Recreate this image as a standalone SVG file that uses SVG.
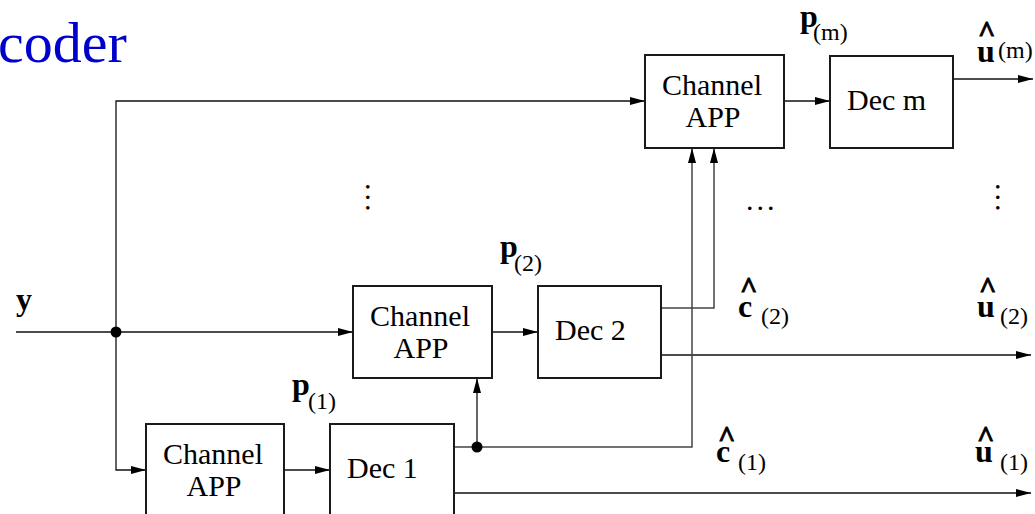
<svg xmlns="http://www.w3.org/2000/svg" width="1035" height="514" viewBox="0 0 1035 514">
<style>
  .box { fill: #ffffff; stroke: #1a1a1a; stroke-width: 2; }
  .lbl { font-family: "Liberation Serif", "Times New Roman", serif; font-size: 30px; fill: #000; }
  .bold { font-family: "Liberation Serif", "Times New Roman", serif; font-weight: bold; font-size: 32px; fill: #000; }
  .sub { font-family: "Liberation Serif", "Times New Roman", serif; font-weight: normal; font-size: 24px; fill: #000; stroke: none; }
  .hat { font-family: "Liberation Serif", "Times New Roman", serif; font-weight: bold; font-size: 30px; fill: #000; stroke: #000; stroke-width: 0.9; }
  .wire { fill: none; stroke: #111; stroke-width: 1.3; }
  .wire2 { fill: none; stroke: #444; stroke-width: 1.5; }
  .dots { font-family: "Liberation Serif", "Times New Roman", serif; font-size: 30px; letter-spacing: 3px; fill: #000; }
</style>
<defs>
  <marker id="arr" markerUnits="userSpaceOnUse" markerWidth="16" markerHeight="10" refX="15" refY="4" orient="auto">
    <path d="M0,0 L15,4 L0,8 Z" fill="#000"/>
  </marker>
</defs>

<text x="-2" y="62" font-family="Liberation Serif, Times New Roman, serif" font-size="58" fill="#0000cc">coder</text>

<g id="connectors">
  <path class="wire" d="M16,332 H353" marker-end="url(#arr)"/>
  <path class="wire" d="M116,332 V101 H645" marker-end="url(#arr)"/>
  <path class="wire" d="M116,332 V470 H146" marker-end="url(#arr)"/>
  <path class="wire" d="M784,101 H830" marker-end="url(#arr)"/>
  <path class="wire" d="M953,79 H1033" marker-end="url(#arr)"/>
  <path class="wire" d="M492,332 H538" marker-end="url(#arr)"/>
  <path class="wire2" d="M661,308 H714 V148" marker-end="url(#arr)"/>
  <path class="wire" d="M661,355 H1031" marker-end="url(#arr)"/>
  <path class="wire" d="M284,470 H330" marker-end="url(#arr)"/>
  <path class="wire2" d="M454,447 H692 V148" marker-end="url(#arr)"/>
  <path class="wire" d="M477,447 V378" marker-end="url(#arr)"/>
  <path class="wire" d="M454,493 H1031" marker-end="url(#arr)"/>
  <circle cx="116" cy="332" r="5.5" fill="#000"/>
  <circle cx="477" cy="447" r="5.5" fill="#000"/>
</g>

<g id="chanm">
  <rect class="box" x="645" y="55" width="139" height="93"/>
  <text class="lbl" x="712" y="95" text-anchor="middle">Channel</text>
  <text class="lbl" x="713" y="127" text-anchor="middle">APP</text>
</g>
<g id="decm">
  <rect class="box" x="830" y="56" width="123" height="92"/>
  <text class="lbl" x="847" y="110">Dec m</text>
</g>
<g id="chan2">
  <rect class="box" x="353" y="286" width="139" height="92"/>
  <text class="lbl" x="420" y="326" text-anchor="middle">Channel</text>
  <text class="lbl" x="421" y="358" text-anchor="middle">APP</text>
</g>
<g id="dec2">
  <rect class="box" x="538" y="286" width="123" height="92"/>
  <text class="lbl" x="555" y="340">Dec 2</text>
</g>
<g id="chan1">
  <rect class="box" x="146" y="424" width="138" height="94"/>
  <text class="lbl" x="213" y="464" text-anchor="middle">Channel</text>
  <text class="lbl" x="214" y="496" text-anchor="middle">APP</text>
</g>
<g id="dec1">
  <rect class="box" x="330" y="424" width="124" height="94"/>
  <text class="lbl" x="347" y="478">Dec 1</text>
</g>

<g id="labels">
  <text class="bold" x="16" y="310">y</text>

  <text class="bold" x="800" y="27">p<tspan class="sub" x="813" y="40">(m)</tspan></text>
  <text class="bold" x="500" y="257">p<tspan class="sub" x="514" y="271">(2)</tspan></text>
  <text class="bold" x="292" y="395">p<tspan class="sub" x="308" y="409">(1)</tspan></text>

  <text class="bold"><tspan class="hat" x="978" y="42">^</tspan><tspan x="977" y="62">u</tspan><tspan class="sub" x="998" y="58">(m)</tspan></text>
  <text class="bold"><tspan class="hat" x="740" y="298">^</tspan><tspan x="738" y="317">c</tspan><tspan class="sub" x="761" y="324">(2)</tspan></text>
  <text class="bold"><tspan class="hat" x="979" y="298">^</tspan><tspan x="977" y="317">u</tspan><tspan class="sub" x="1000" y="324">(2)</tspan></text>
  <text class="bold"><tspan class="hat" x="718" y="447">^</tspan><tspan x="716" y="462">c</tspan><tspan class="sub" x="738" y="470">(1)</tspan></text>
  <text class="bold"><tspan class="hat" x="977" y="447">^</tspan><tspan x="975" y="462">u</tspan><tspan class="sub" x="1000" y="470">(1)</tspan></text>

  <text class="dots" x="746" y="210">...</text>
  <text class="dots" transform="translate(366,183) rotate(90)">...</text>
  <text class="dots" transform="translate(996,183) rotate(90)">...</text>
</g>
</svg>
